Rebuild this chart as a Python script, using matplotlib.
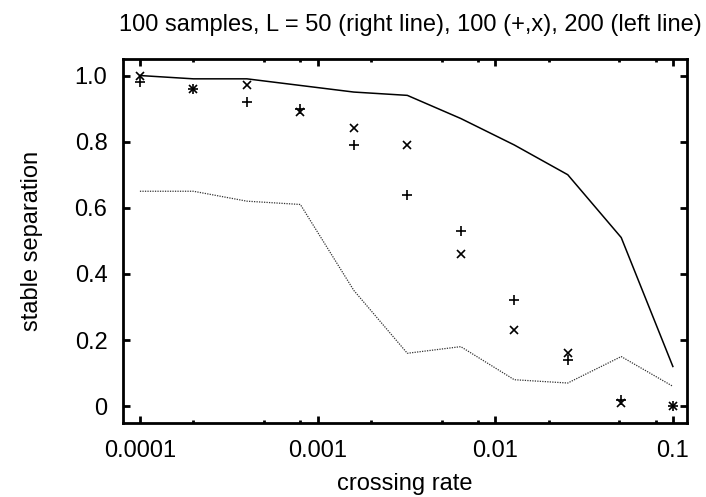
import numpy as np
import matplotlib.pyplot as plt
from matplotlib.ticker import FixedLocator, NullFormatter

plt.rcParams['font.family'] = ['Liberation Sans', 'DejaVu Sans']

# crossing rates
rate = [0.0001, 0.0002, 0.0004, 0.0008, 0.0016, 0.0032, 0.0064, 0.0128, 0.0256, 0.0512, 0.1]

# L = 50 (right line)
sep_l50 = [1.00, 0.99, 0.99, 0.97, 0.95, 0.94, 0.87, 0.79, 0.70, 0.51, 0.12]
# L = 100 (+ and x)
sep_l100_plus = [0.98, 0.96, 0.92, 0.90, 0.79, 0.64, 0.53, 0.32, 0.14, 0.02, 0.00]
sep_l100_x = [1.00, 0.96, 0.97, 0.89, 0.84, 0.79, 0.46, 0.23, 0.16, 0.01, 0.00]
# L = 200 (left line)
sep_l200 = [0.65, 0.65, 0.62, 0.61, 0.35, 0.16, 0.18, 0.08, 0.07, 0.15, 0.06]

x_ticks = [0.0001, 0.001, 0.01, 0.1]
x_ticklabels = ['0.0001', '0.001', '0.01', '0.1']
y_ticks = [0, 0.2, 0.4, 0.6, 0.8, 1.0]
y_ticklabels = ['0', '0.2', '0.4', '0.6', '0.8', '1.0']

fig = plt.figure(figsize=(7.06, 4.97), dpi=100)
ax = fig.add_axes([0.1738, 0.1495, 0.973 - 0.1738, 0.8813 - 0.1495])

ax.plot(rate, sep_l50, color='black', lw=1.1)
ax.plot(rate, sep_l200, color='#333333', lw=0.9, linestyle=(0, (1, 1)))
ax.plot(rate, sep_l100_plus, linestyle='none', marker='+', color='black', ms=6.5, mew=1.2)
ax.plot(rate, sep_l100_x, linestyle='none', marker='x', color='black', ms=5.5, mew=1.2)

ax.set_xscale('log')
ax.set_xlim(8.0e-5, 0.12)
ax.set_ylim(-0.05, 1.05)

ax.xaxis.set_major_locator(FixedLocator(x_ticks))
ax.set_xticklabels(x_ticklabels)
minor = [m * d for d in [0.0001, 0.001, 0.01] for m in (2, 5, 8)]
ax.xaxis.set_minor_locator(FixedLocator(minor))
ax.xaxis.set_minor_formatter(NullFormatter())
ax.set_yticks(y_ticks)
ax.set_yticklabels(y_ticklabels)

for s in ax.spines.values():
    s.set_linewidth(2.0)
ax.tick_params(which='major', direction='in', length=5, width=2.0, top=True, right=True,
               labelsize=17)
ax.tick_params(axis='x', which='major', pad=12.5)
ax.tick_params(axis='y', which='major', pad=11)
ax.tick_params(which='minor', direction='in', length=2.5, width=2.0, top=True, right=True)

ax.set_title('100 samples, L = 50 (right line), 100 (+,x), 200 (left line)', fontsize=17,
             pad=20, x=0.509)
ax.set_xlabel('crossing rate', fontsize=17, labelpad=8)
ax.set_ylabel('stable separation', fontsize=17, labelpad=23)

fig.savefig('out.png', dpi=100)
